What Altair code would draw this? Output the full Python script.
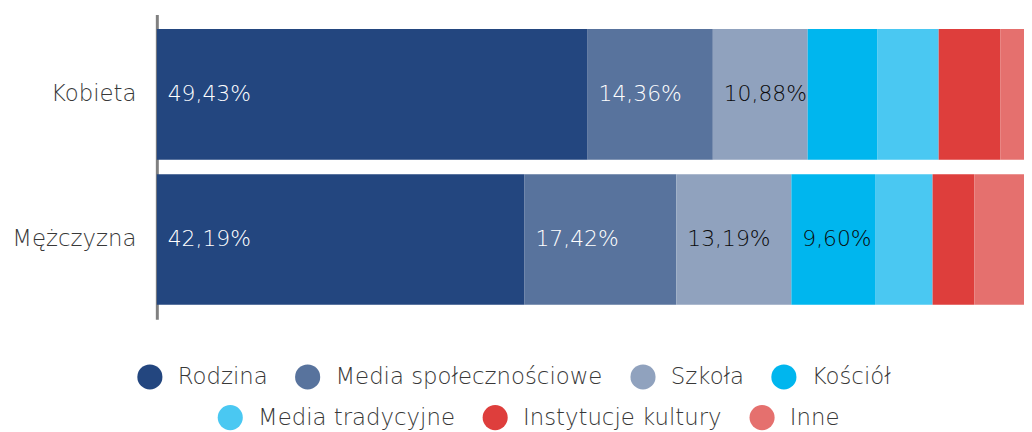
import altair as alt
import pandas as pd

genders = ["Kobieta", "Mężczyzna"]
sources = ["Rodzina", "Media społecznościowe", "Szkoła", "Kościół",
           "Media tradycyjne", "Instytucje kultury", "Inne"]
kobieta = [49.43, 14.36, 10.88, 7.97, 7.06, 7.06, 3.24]
mezczyzna = [42.19, 17.42, 13.19, 9.60, 6.60, 4.78, 6.22]
colors = ["#23467F", "#58739D", "#90A2BE", "#00B6EE", "#4AC8F2", "#DE3E3C", "#E5706E"]
legend_row1 = sources[:4]
legend_row2 = sources[4:]
x_visible_max = 99.49  # the reference view is cropped at the right edge

rows = []
for g, vals in zip(genders, [kobieta, mezczyzna]):
    for i, (s, v) in enumerate(zip(sources, vals)):
        rows.append({"gender": g, "source": s, "order": i, "value": v,
                     "label": f"{v:.2f}%".replace(".", ",")})
df = pd.DataFrame(rows)

FONT = "DejaVu Sans"
FW = 200
TXT = "#383838"

base = alt.Chart(df).transform_stack(
    stack="value", groupby=["gender"], sort=[alt.SortField("order")], as_=["x0", "x1"]
)

yenc = alt.Y("gender:N", sort=genders, title=None,
             scale=alt.Scale(paddingInner=0.1, paddingOuter=0.1),
             axis=alt.Axis(labelFont=FONT, labelFontSize=23, labelFontWeight=FW,
                           labelColor=TXT, ticks=False, labelPadding=21,
                           minExtent=145, maxExtent=145,
                           domainColor="#808080", domainWidth=3))

xscale = alt.Scale(domain=[0, x_visible_max], nice=False, zero=True)

bars = base.mark_bar(cornerRadius=0).encode(
    x=alt.X("x0:Q", scale=xscale, axis=None),
    x2="x1:Q",
    y=yenc,
    color=alt.Color("source:N", scale=alt.Scale(domain=sources, range=colors), legend=None),
)

texts = base.transform_filter("datum.value >= 9").mark_text(
    align="left", baseline="middle", dx=11, font=FONT, fontSize=22, fontWeight=FW
).encode(
    x=alt.X("x0:Q", scale=xscale, axis=None),
    y=yenc,
    text="label:N",
    color=alt.condition("datum.order < 2", alt.value("white"), alt.value("#0a0a0a")),
)

def legend_layer(domain, rng, lx, ly):
    return alt.Chart(df).transform_filter(
        alt.FieldOneOfPredicate(field="source", oneOf=domain)
    ).mark_point(filled=True, opacity=0, size=1).encode(
        x=alt.value(2),
        y=alt.value(60),
        color=alt.Color("source:N", scale=alt.Scale(domain=domain, range=rng),
                        legend=alt.Legend(
                            title=None, orient="none", direction="horizontal",
                            legendX=lx, legendY=ly, symbolType="circle",
                            symbolSize=640, symbolOpacity=1, symbolStrokeWidth=0,
                            labelFont=FONT, labelFontSize=23, labelFontWeight=FW,
                            labelColor=TXT, labelOffset=15, columnPadding=27,
                            padding=0, labelLimit=400)),
    )

leg1 = legend_layer(legend_row1, colors[:4], -20, 352)
leg2 = legend_layer(legend_row2, colors[4:], 61, 393)

chart = alt.layer(leg1, leg2, bars, texts).resolve_scale(color="independent").properties(
    width=874, height=307,
    autosize=alt.AutoSizeParams(type="none"),
    padding={"left": 150, "top": 5, "right": 0, "bottom": 112},
).configure_view(stroke=None)

chart.save("out.html", embed_options={"renderer": "svg", "actions": False})
